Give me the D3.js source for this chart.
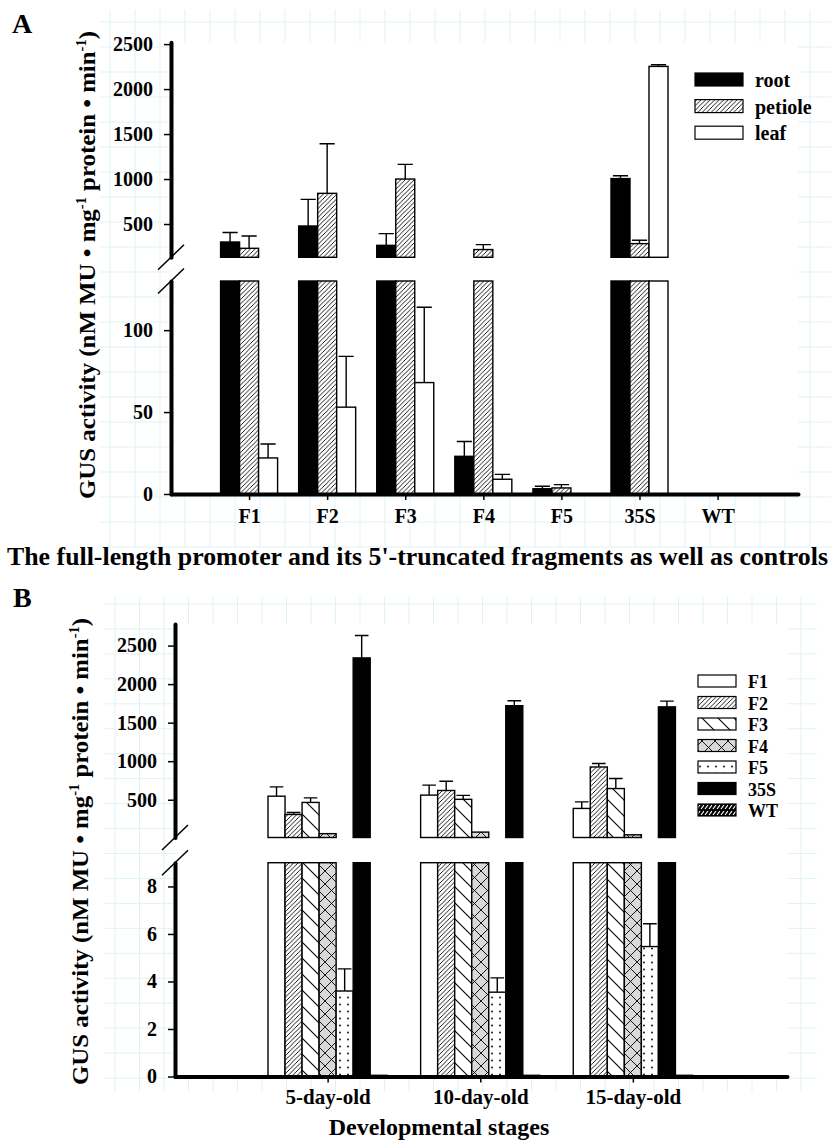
<!DOCTYPE html>
<meta charset="utf-8">
<style>
  body { margin: 0; background: #fff; }
  svg { display: block; font-family: "Liberation Serif", "Times New Roman", serif; font-weight: bold; }
  .axis path.domain { stroke: #000; stroke-width: 4px; stroke-linecap: round; }
  .axis line { stroke: #000; stroke-width: 1.5px; }
  .axis text { font-size: 20px; font-weight: bold; font-family: "Liberation Serif", serif; fill: #000; }
  .grid line { stroke: #dff3f6; stroke-width: 1px; }
  .bar { stroke: #000; stroke-width: 1.4px; }
  .err { stroke: #000; stroke-width: 1.4px; fill: none; }
</style>
<div id="chart"></div>
<script src="https://cdnjs.cloudflare.com/ajax/libs/d3/7.8.5/d3.min.js"></script>
<script>
// ---- panel A : promoter fragments x tissue ----
var groupsA = ["F1", "F2", "F3", "F4", "F5", "35S", "WT"];
var tissues = ["root", "petiole", "leaf"];
var rootMean    = [300, 478, 263, 23, 3.2, 1005, 0];
var rootErr     = [105, 296, 130, 9, 1.5, 32, 0];
var petioleMean = [230, 841, 1000, 216, 3.7, 282, 0];
var petioleErr  = [137, 551, 163, 55, 2, 37, 0];
var leafMean    = [22, 53, 68, 9, 0, 2252, 0];
var leafErr     = [8.5, 31, 46, 3, 0, 18, 0];
var ticksUpA  = [500, 1000, 1500, 2000, 2500];
var ticksLowA = [0, 50, 100];

// ---- panel B : developmental stages x construct ----
var stages = ["5-day-old", "10-day-old", "15-day-old"];
var constructs = ["F1", "F2", "F3", "F4", "F5", "35S", "WT"];
var f1Mean  = [546, 560, 387],   f1Err  = [121, 130, 85];
var f2Mean  = [309, 620, 925],   f2Err  = [26, 120, 45];
var f3Mean  = [465, 505, 645],   f3Err  = [59, 52, 130];
var f4Mean  = [60, 80, 45],      f4Err  = [0, 0, 0];
var f5Mean  = [3.6, 3.55, 5.47], f5Err  = [0.93, 0.6, 0.96];
var s35Mean = [2340, 1720, 1705], s35Err = [290, 65, 75];
var wtMean  = [0.05, 0.05, 0.05], wtErr = [0, 0, 0];
var ticksUpB  = [500, 1000, 1500, 2000, 2500];
var ticksLowB = [0, 2, 4, 6, 8];

var W = 831, H = 1140;
var svg = d3.select("#chart").append("svg").attr("width", W).attr("height", H);

// fill patterns
var defs = svg.append("defs");
function pattern(id, w, h, bg, draw) {
  var p = defs.append("pattern").attr("id", id)
    .attr("patternUnits", "userSpaceOnUse").attr("width", w).attr("height", h);
  p.append("rect").attr("width", w).attr("height", h).attr("fill", bg);
  draw(p);
}
pattern("hatch", 4.5, 4.5, "#fff", function (p) {
  p.append("path").attr("d", "M-1,1L1,-1M0,4.5L4.5,0M3.5,5.5L5.5,3.5")
    .attr("stroke", "#000").attr("stroke-width", 0.9);
});
pattern("back", 16, 16, "#fff", function (p) {
  p.append("path").attr("d", "M0,0L16,16M-4,12L4,20M12,-4L20,4")
    .attr("stroke", "#000").attr("stroke-width", 1.1);
});
pattern("cross", 13, 13, "#d9d9d9", function (p) {
  p.append("path").attr("d", "M0,0L13,13M13,0L0,13")
    .attr("stroke", "#000").attr("stroke-width", 0.9);
});
pattern("dots", 8, 7, "#fff", function (p) {
  p.append("circle").attr("cx", 4).attr("cy", 3.5).attr("r", 0.9).attr("fill", "#000");
});
pattern("weave", 8, 6, "#000", function (p) {
  p.append("path").attr("d", "M1,5L4,1M5,5L8,1")
    .attr("stroke", "#fff").attr("stroke-width", 1.2);
});

function drawPanel(o) {
  var g = svg.append("g");
  var x0 = o.x.range()[0], x1 = o.x.range()[1];
  var yTop = o.yUp.range()[1], yBase = o.yLow.range()[0];

  // faint graph-paper background
  var grid = g.append("g").attr("class", "grid");
  grid.selectAll(null).data(d3.range(o.grid.vx, o.grid.x1, o.grid.sx)).join("line")
    .attr("x1", function (d) { return d; }).attr("x2", function (d) { return d; })
    .attr("y1", o.grid.y0).attr("y2", o.grid.y1);
  grid.selectAll(null).data(d3.range(o.grid.hy, o.grid.y1, o.grid.sy)).join("line")
    .attr("y1", function (d) { return d; }).attr("y2", function (d) { return d; })
    .attr("x1", o.grid.x0).attr("x2", o.grid.x1);
  g.append("rect").attr("x", x0).attr("y", yTop)
    .attr("width", x1 - x0).attr("height", yBase - yTop).attr("fill", "#fff");

  var n = o.series.length;
  var band = d3.scaleBand().domain(o.series).range([-o.barW * n / 2, o.barW * n / 2]);
  var rows = [];
  o.series.forEach(function (s, si) {
    o.groups.forEach(function (gn, gi) {
      rows.push({ s: s, si: si, gi: gi, v: o.means[si][gi], e: o.errs[si][gi] });
    });
  });
  var brk = o.yLow.domain()[1];
  var upMin = o.yUp.domain()[0];

  // lower segment
  g.selectAll(null).data(rows.filter(function (d) { return d.v > 0; })).join("rect")
    .attr("class", "bar")
    .attr("x", function (d) { return o.x(d.gi + 1) + band(d.s); })
    .attr("width", band.bandwidth())
    .attr("y", function (d) { return o.yLow(Math.min(d.v, brk)); })
    .attr("height", function (d) { return o.yLow(0) - o.yLow(Math.min(d.v, brk)); })
    .attr("fill", function (d) { return o.fills[d.si]; });
  // upper segment
  g.selectAll(null).data(rows.filter(function (d) { return d.v > upMin; })).join("rect")
    .attr("class", "bar")
    .attr("x", function (d) { return o.x(d.gi + 1) + band(d.s); })
    .attr("width", band.bandwidth())
    .attr("y", function (d) { return o.yUp(d.v); })
    .attr("height", function (d) { return o.yUp(upMin) - o.yUp(d.v); })
    .attr("fill", function (d) { return o.fills[d.si]; });
  // error bars (upper half only)
  var cap = band.bandwidth() * 0.4;
  g.selectAll(null).data(rows.filter(function (d) { return d.e > 0; })).join("path")
    .attr("class", "err")
    .attr("d", function (d) {
      var sc = d.v > upMin ? o.yUp : o.yLow;
      var cx = o.x(d.gi + 1) + band(d.s) + band.bandwidth() / 2;
      var ya = sc(d.v), yb = sc(d.v + d.e);
      return "M" + cx + "," + ya + "V" + yb + "M" + (cx - cap) + "," + yb + "H" + (cx + cap);
    });

  // axes
  var fmt = d3.format("d");
  g.append("g").attr("class", "axis").attr("transform", "translate(" + x0 + ",0)")
    .call(d3.axisLeft(o.yUp).tickValues(o.upTicks).tickFormat(fmt)
      .tickSize(7).tickPadding(11).tickSizeOuter(0));
  g.append("g").attr("class", "axis").attr("transform", "translate(" + x0 + ",0)")
    .call(d3.axisLeft(o.yLow).tickValues(o.lowTicks).tickFormat(fmt)
      .tickSize(7).tickPadding(11).tickSizeOuter(0));
  g.append("g").attr("class", "axis").attr("transform", "translate(0," + yBase + ")")
    .call(d3.axisBottom(o.x).tickValues(d3.range(1, o.groups.length + 1))
      .tickFormat(function (i) { return o.groups[i - 1]; })
      .tickSize(6).tickSizeOuter(0).tickPadding(o.xPad))
    .selectAll("text").style("font-size", o.xFont + "px");

  // break marks
  [o.yUp.range()[0], o.yLow.range()[1]].forEach(function (yb) {
    g.append("line").attr("x1", x0 - 13).attr("y1", yb + 12.5).attr("x2", x0 + 13).attr("y2", yb - 12.5)
      .attr("stroke", "#000").attr("stroke-width", 1.5);
  });

  // y label
  var t = g.append("text")
    .attr("transform", "translate(" + o.labX + "," + o.labY + ") rotate(-90)")
    .attr("text-anchor", "middle").attr("font-size", 24)
    .attr("textLength", o.labLen).attr("lengthAdjust", "spacingAndGlyphs");
  t.append("tspan").text("GUS activity (nM MU \u2022 mg");
  t.append("tspan").attr("dy", -9).attr("font-size", 14).text("-1");
  t.append("tspan").attr("dy", 9).text(" protein \u2022 min");
  t.append("tspan").attr("dy", -9).attr("font-size", 14).text("-1");
  t.append("tspan").attr("dy", 9).text(")");

  // legend
  var lg = g.append("g");
  o.series.forEach(function (s, i) {
    var ty = o.leg.y + i * o.leg.step;
    lg.append("rect").attr("x", o.leg.x).attr("y", ty).attr("width", o.leg.w).attr("height", o.leg.h)
      .attr("fill", o.fills[i]).attr("stroke", "#000").attr("stroke-width", 1.2);
    lg.append("text").attr("x", o.leg.tx).attr("y", ty + o.leg.h + 1).attr("font-size", o.leg.fs).text(s);
  });
  return g;
}

// panel A
drawPanel({
  groups: groupsA, series: tissues,
  means: [rootMean, petioleMean, leafMean], errs: [rootErr, petioleErr, leafErr],
  fills: ["#000", "url(#hatch)", "#fff"],
  x: d3.scaleLinear().domain([0, 8.03]).range([171, 798]),
  yUp: d3.scaleLinear().domain([130, 2520]).range([257.3, 42.3]),
  yLow: d3.scaleLinear().domain([0, 130]).range([494, 281]),
  upTicks: ticksUpA, lowTicks: ticksLowA,
  barW: 19, xPad: 9, xFont: 20,
  labX: 95, labY: 265, labLen: 468,
  grid: { x0: 100, x1: 831, y0: 10, y1: 548, vx: 110, hy: 22, sx: 25, sy: 25 },
  leg: { x: 695, y: 73, step: 26.6, w: 48, h: 13, tx: 755, fs: 20 }
});

// panel B
drawPanel({
  groups: stages, series: constructs,
  means: [f1Mean, f2Mean, f3Mean, f4Mean, f5Mean, s35Mean, wtMean],
  errs: [f1Err, f2Err, f3Err, f4Err, f5Err, s35Err, wtErr],
  fills: ["#fff", "url(#hatch)", "url(#back)", "url(#cross)", "url(#dots)", "#000", "url(#weave)"],
  x: d3.scaleLinear().domain([0, 4.01]).range([175, 787]),
  yUp: d3.scaleLinear().domain([10, 2780]).range([837.5, 624]),
  yLow: d3.scaleLinear().domain([0, 9]).range([1076.5, 862.7]),
  upTicks: ticksUpB, lowTicks: ticksLowB,
  barW: 17.03, xPad: 7, xFont: 21,
  labX: 88, labY: 851.5, labLen: 467,
  grid: { x0: 105, x1: 817, y0: 597, y1: 1092, vx: 115, hy: 604, sx: 24.5, sy: 24.95 },
  leg: { x: 698, y: 675, step: 21.5, w: 38, h: 12, tx: 748, fs: 18 }
});

// panel letters and axis titles
svg.append("text").attr("x", 12).attr("y", 33).attr("font-size", 28).text("A");
svg.append("text").attr("x", 13).attr("y", 607).attr("font-size", 28).text("B");
svg.append("text").attr("x", 417.5).attr("y", 565).attr("text-anchor", "middle")
  .attr("font-size", 25).attr("textLength", 821).attr("lengthAdjust", "spacingAndGlyphs")
  .text("The full-length promoter and its 5'-truncated fragments as well as controls");
svg.append("text").attr("x", 439).attr("y", 1135).attr("text-anchor", "middle")
  .attr("font-size", 24).text("Developmental stages");
</script>
